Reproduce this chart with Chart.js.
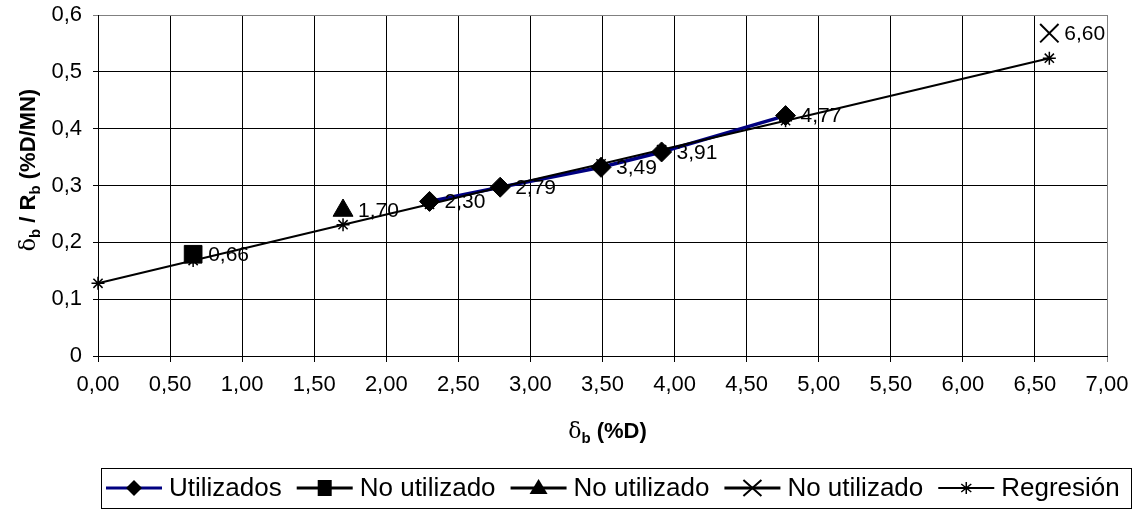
<!DOCTYPE html>
<html>
<head>
<meta charset="utf-8">
<script src="https://cdn.jsdelivr.net/npm/chart.js@4.4.1/dist/chart.umd.min.js"></script>
<style>
  html, body { margin: 0; padding: 0; background: #fff; }
  #wrap { width: 1136px; height: 511px; }
</style>
</head>
<body>
<div id="wrap"><canvas id="myChart" width="1136" height="511"></canvas></div>
<script>
// valores
var xUtil = [2.30, 2.79, 3.49, 3.91, 4.77];
var yUtil = [0.272, 0.297, 0.332, 0.359, 0.423];
var xNoUtil1 = [0.66];
var yNoUtil1 = [0.179];
var xNoUtil2 = [1.70];
var yNoUtil2 = [0.256];
var xNoUtil3 = [6.60];
var yNoUtil3 = [0.568];
var xReg = [0, 0.66, 1.70, 2.30, 2.79, 3.49, 3.91, 4.77, 6.60];
var yReg = [0.128, 0.168, 0.231, 0.267, 0.297, 0.338, 0.363, 0.414, 0.524];
var seriesNames = ['Utilizados', 'No utilizado', 'No utilizado', 'No utilizado', 'Regresión'];
var xTicks = [0, 0.5, 1, 1.5, 2, 2.5, 3, 3.5, 4, 4.5, 5, 5.5, 6, 6.5, 7];
var yTicks = [0, 0.1, 0.2, 0.3, 0.4, 0.5, 0.6];

var FAM = '"Liberation Sans", Arial, sans-serif';

function pts(xs, ys) {
  return xs.map(function (x, i) { return { x: x, y: ys[i] }; });
}
function fmt(v, d) {
  return v.toFixed(d).replace('.', ',');
}

// etiquetas de datos (valor de x a la derecha del punto)
var labelPlugin = {
  id: 'etiquetas',
  afterDatasetsDraw: function (chart) {
    var ctx = chart.ctx;
    ctx.save();
    ctx.font = '21px ' + FAM;
    ctx.fillStyle = '#000';
    ctx.textAlign = 'left';
    ctx.textBaseline = 'middle';
    chart.data.datasets.forEach(function (ds, i) {
      if (!ds.showLabels) return;
      var meta = chart.getDatasetMeta(i);
      meta.data.forEach(function (pt, j) {
        ctx.fillText(fmt(ds.data[j].x, 2), pt.x + 15, pt.y + 1);
      });
    });
    ctx.restore();
  }
};

// texto con subíndices
function drawRich(ctx, parts, x, y) {
  var total = 0;
  parts.forEach(function (p) { ctx.font = p[1]; total += ctx.measureText(p[0]).width; });
  var cx = x - total / 2;
  parts.forEach(function (p) {
    ctx.font = p[1];
    ctx.fillText(p[0], cx, y + p[2]);
    cx += ctx.measureText(p[0]).width;
  });
}

var fBig = 'bold 22px ' + FAM;
var fDelta = '22px "DejaVu Serif", serif';
var fSub = 'bold 15px ' + FAM;
var xTitle = [['δ', fDelta, 0], ['b', fSub, 5], [' (%D)', fBig, 0]];
var yTitle = [['δ', fDelta, 0], ['b', fSub, 5], [' / R', fBig, 0], ['b', fSub, 5], [' (%D/MN)', fBig, 0]];

function marker(ctx, kind, x, y) {
  ctx.save();
  ctx.fillStyle = '#000';
  ctx.strokeStyle = '#000';
  ctx.beginPath();
  if (kind === 'diamond') {
    ctx.moveTo(x, y - 8); ctx.lineTo(x + 8, y); ctx.lineTo(x, y + 8); ctx.lineTo(x - 8, y);
    ctx.closePath(); ctx.fill();
  } else if (kind === 'square') {
    ctx.rect(x - 7, y - 8, 14, 16); ctx.fill();
  } else if (kind === 'triangle') {
    ctx.moveTo(x, y - 9); ctx.lineTo(x + 9, y + 6); ctx.lineTo(x - 9, y + 6);
    ctx.closePath(); ctx.fill();
  } else if (kind === 'x') {
    ctx.lineWidth = 2;
    ctx.moveTo(x - 9, y - 8); ctx.lineTo(x + 9, y + 8);
    ctx.moveTo(x + 9, y - 8); ctx.lineTo(x - 9, y + 8);
    ctx.stroke();
  } else if (kind === 'star') {
    ctx.lineWidth = 1.5;
    ctx.moveTo(x, y - 6); ctx.lineTo(x, y + 6);
    ctx.moveTo(x - 5, y - 4); ctx.lineTo(x + 5, y + 4);
    ctx.moveTo(x + 5, y - 4); ctx.lineTo(x - 5, y + 4);
    ctx.stroke();
  }
  ctx.restore();
}

var legendItems = [
  { color: '#000080', lw: 3, mark: 'diamond' },
  { color: '#000', lw: 3, mark: 'square' },
  { color: '#000', lw: 3, mark: 'triangle' },
  { color: '#000', lw: 3, mark: 'x' },
  { color: '#000', lw: 2, mark: 'star' }
];

var extrasPlugin = {
  id: 'extras',
  afterDraw: function (chart) {
    var ctx = chart.ctx;
    var a = chart.chartArea;
    ctx.save();
    ctx.fillStyle = '#000';
    ctx.textBaseline = 'alphabetic';
    ctx.textAlign = 'left';
    // título eje x
    drawRich(ctx, xTitle, (a.left + a.right) / 2 + 5, 438);
    // título eje y
    ctx.save();
    ctx.translate(27, 170);
    ctx.rotate(-Math.PI / 2);
    drawRich(ctx, yTitle, 0, 8);
    ctx.restore();

    // leyenda
    ctx.strokeStyle = '#000';
    ctx.lineWidth = 1;
    ctx.strokeRect(101.5, 468.5, 1030, 40);
    var x = 106, y = 488;
    ctx.font = '26px ' + FAM;
    ctx.textBaseline = 'middle';
    legendItems.forEach(function (it, i) {
      ctx.beginPath();
      ctx.strokeStyle = it.color;
      ctx.lineWidth = it.lw;
      ctx.moveTo(x, y);
      ctx.lineTo(x + 56, y);
      ctx.stroke();
      marker(ctx, it.mark, x + 28, y);
      ctx.fillStyle = '#000';
      ctx.fillText(seriesNames[i], x + 63, y + 1);
      x += 63 + ctx.measureText(seriesNames[i]).width + 15;
    });
    ctx.restore();
  }
};

var ctx = document.getElementById('myChart');
var myChart = new Chart(ctx, {
  type: 'scatter',
  data: {
    datasets: [
      {
        label: seriesNames[0],
        data: pts(xUtil, yUtil),
        showLine: true,
        borderColor: '#000080',
        borderWidth: 3.5,
        pointStyle: 'rectRot',
        pointRadius: 10,
        pointBackgroundColor: '#000',
        pointBorderColor: '#000',
        pointBorderWidth: 1,
        showLabels: true,
        clip: false,
        order: 2
      },
      {
        label: seriesNames[1],
        data: pts(xNoUtil1, yNoUtil1),
        pointStyle: 'rect',
        pointRadius: 12.5,
        pointBackgroundColor: '#000',
        pointBorderColor: '#000',
        showLabels: true,
        clip: false,
        order: 1
      },
      {
        label: seriesNames[2],
        data: pts(xNoUtil2, yNoUtil2),
        pointStyle: 'triangle',
        pointRadius: 11.5,
        pointBackgroundColor: '#000',
        pointBorderColor: '#000',
        showLabels: true,
        clip: false,
        order: 1
      },
      {
        label: seriesNames[3],
        data: pts(xNoUtil3, yNoUtil3),
        pointStyle: 'crossRot',
        pointRadius: 13,
        pointBorderColor: '#000',
        pointBorderWidth: 2,
        showLabels: true,
        clip: false,
        order: 1
      },
      {
        label: seriesNames[4],
        data: pts(xReg, yReg),
        showLine: true,
        borderColor: '#000',
        borderWidth: 2,
        pointStyle: 'star',
        pointRadius: 6.5,
        pointBorderColor: '#000',
        pointBorderWidth: 1.5,
        clip: false,
        order: 0
      }
    ]
  },
  options: {
    responsive: false,
    animation: false,
    devicePixelRatio: 1,
    layout: { padding: { top: 15, right: 29, bottom: 0, left: 0 } },
    plugins: {
      legend: { display: false },
      tooltip: { enabled: false }
    },
    scales: {
      x: {
        type: 'linear',
        min: 0,
        max: 7,
        afterBuildTicks: function (s) { s.ticks = xTicks.map(function (v) { return { value: v }; }); },
        afterFit: function (s) { s.height = 155; s.paddingLeft = 0; s.paddingRight = 0; },
        ticks: {
          callback: function (v) { return fmt(v, 2); },
          font: { size: 22, family: FAM },
          color: '#000',
          padding: 10,
          maxRotation: 0,
          autoSkip: false
        },
        grid: {
          color: function (c) { return c.tick && c.tick.value === 7 ? '#808080' : '#000'; },
          lineWidth: 1,
          tickLength: 6
        },
        border: { color: '#000', width: 1 }
      },
      y: {
        type: 'linear',
        min: 0,
        max: 0.6,
        afterBuildTicks: function (s) { s.ticks = yTicks.map(function (v) { return { value: v }; }); },
        afterFit: function (s) { s.width = 98; s.paddingTop = 0; s.paddingBottom = 0; },
        ticks: {
          callback: function (v) { return v === 0 ? '0' : fmt(v, 1); },
          font: { size: 22, family: FAM },
          color: '#000',
          padding: 11
        },
        grid: {
          color: function (c) { return c.tick && c.tick.value === 0.6 ? '#808080' : '#000'; },
          lineWidth: 1,
          tickLength: 5
        },
        border: { color: '#000', width: 1 }
      }
    }
  },
  plugins: [labelPlugin, extrasPlugin]
});
</script>
</body>
</html>
